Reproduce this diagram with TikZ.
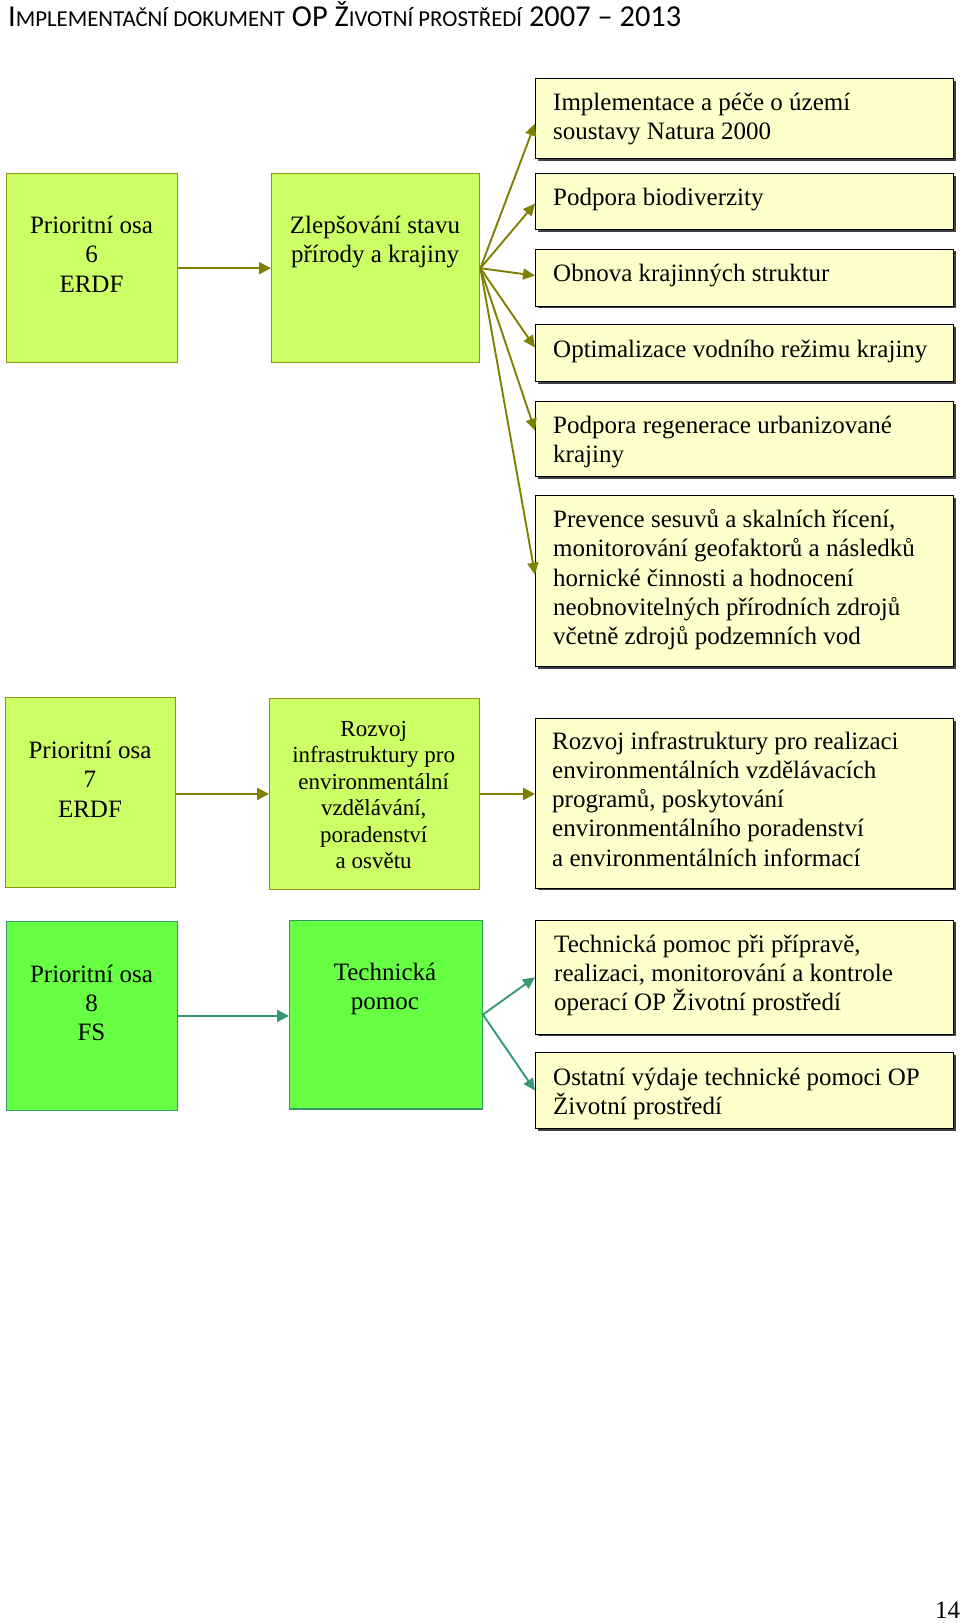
\documentclass[tikz,border=0pt]{standalone}
\usepackage{fontspec}
\setmainfont{Liberation Serif}
\newfontfamily\hdrfont{Carlito}
\usetikzlibrary{arrows.meta,shadows}
\definecolor{limefill}{HTML}{CCFF66}
\definecolor{limedraw}{HTML}{8F9410}
\definecolor{greenfill}{HTML}{66FF44}
\definecolor{greendraw}{HTML}{339966}
\definecolor{olivearrow}{HTML}{808000}
\definecolor{tealarrow}{HTML}{339977}
\definecolor{paleyellow}{HTML}{FFFFCC}
\definecolor{shadowgray}{HTML}{404040}
\tikzset{
  limebox/.style={draw=limedraw, fill=limefill, line width=1.4pt, inner sep=0pt, anchor=north west},
  greenbox/.style={draw=greendraw, fill=greenfill, line width=1.4pt, inner sep=0pt, anchor=north west},
  rbox/.style={draw=black, fill=paleyellow, line width=1.2pt, inner sep=0pt, anchor=north west,
    minimum width=418pt, drop shadow={shadow xshift=2pt, shadow yshift=-2pt, fill=shadowgray, opacity=1}},
  ctext/.style={inner sep=0pt, align=center, anchor=base, font=\fontsize{25}{29.3}\selectfont},
  ltext/.style={inner sep=0pt, align=left, anchor=base west, font=\fontsize{25}{29.3}\selectfont},
  oarrow/.style={draw=olivearrow, line width=2.4pt, -{Triangle[length=12pt,width=12pt]}},
  ofan/.style={draw=olivearrow, line width=1.9pt, -{Triangle[length=12pt,width=11pt]}},
  tarrow/.style={draw=tealarrow, line width=2.4pt, -{Triangle[length=12pt,width=12pt]}},
  tfan/.style={draw=tealarrow, line width=1.9pt, -{Triangle[length=12pt,width=11pt]}},
}
\begin{document}
\begin{tikzpicture}[x=1pt,y=-1pt]
\useasboundingbox (0,0) rectangle (960,1623);
% header
\node[inner sep=0pt, anchor=base west] (hdr) at (8,26.5) {\hdrfont\fontsize{30.4}{32}\selectfont I{\fontsize{22.8}{32}\selectfont MPLEMENTAČNÍ DOKUMENT} OP Ž{\fontsize{22.8}{32}\selectfont IVOTNÍ PROSTŘEDÍ} 2007 – 2013};
% row 6
\node[limebox, minimum width=171pt, minimum height=189pt] (a6) at (6,173) {};
\node[limebox, minimum width=208pt, minimum height=189pt] (b6) at (271,173) {};
\node[ctext] (ta6) at (91.5,292.1) {Prioritní osa\\6\\ERDF};
\node[ctext] (tb6) at (375,262.8) {Zlepšování stavu\\přírody a krajiny};
\node[rbox, minimum height=80pt] (r1) at (535,78) {};
\node[rbox, minimum height=56pt] (r2) at (535,173) {};
\node[rbox, minimum height=57pt] (r3) at (535,248.5) {};
\node[rbox, minimum height=57pt] (r4) at (535,324) {};
\node[rbox, minimum height=75pt] (r5) at (535,401) {};
\node[rbox, minimum height=171pt] (r6) at (535,495) {};
\node[ltext] (tr1) at (553,139.3) {Implementace a péče o území\\soustavy Natura 2000};
\node[ltext] (tr2) at (553,205.5) {Podpora biodiverzity};
\node[ltext] (tr3) at (553,281.5) {Obnova krajinných struktur};
\node[ltext] (tr4) at (553,357.5) {Optimalizace vodního režimu krajiny};
\node[ltext] (tr5) at (553,462.3) {Podpora regenerace urbanizované\\krajiny};
\node[ltext] (tr6) at (553,644.7) {Prevence sesuvů a skalních řícení,\\monitorování geofaktorů a následků\\hornické činnosti a hodnocení\\neobnovitelných přírodních zdrojů\\včetně zdrojů podzemních vod};
\draw[oarrow] (a6.east) -- (b6.west);
\draw[ofan] (b6.east) -- ([yshift=-5pt]r1.west);
\draw[ofan] (b6.east) -- ([yshift=-2pt]r2.west);
\draw[ofan] (b6.east) -- ([yshift=2pt]r3.west);
\draw[ofan] (b6.east) -- ([yshift=5.5pt]r4.west);
\draw[ofan] (b6.east) -- ([yshift=8.5pt]r5.west);
\draw[ofan] (b6.east) -- ([yshift=6.5pt]r6.west);
% row 7
\node[limebox, minimum width=170pt, minimum height=189.5pt] (a7) at (5,697) {};
\node[limebox, minimum width=209.5pt, minimum height=190.5pt] (b7) at (269,698) {};
\node[rbox, minimum height=169.5pt] (r7) at (535,718) {};
\node[ctext] (ta7) at (90,817.1) {Prioritní osa\\7\\ERDF};
\node[ctext, font=\fontsize{23}{26.5}\selectfont] (tb7) at (373.7,868.5) {Rozvoj\\infrastruktury pro\\environmentální\\vzdělávání,\\poradenství\\a osvětu};
\node[ltext] (tr7) at (552,866.2) {Rozvoj infrastruktury pro realizaci\\environmentálních vzdělávacích\\programů, poskytování\\environmentálního poradenství\\a environmentálních informací};
\draw[oarrow] (a7.east |- b7.east) -- (b7.west);
\draw[oarrow] (b7.east) -- (b7.east -| r7.west);
% row 8
\node[greenbox, minimum width=171pt, minimum height=189.5pt] (a8) at (6,920.5) {};
\node[greenbox, minimum width=192.5pt, minimum height=188.5pt] (b8) at (289,919.6) {};
\node[rbox, minimum height=114pt] (r8) at (535,919.6) {};
\node[rbox, minimum height=76pt] (r9) at (535,1052) {};
\node[ctext] (ta8) at (91.5,1040.6) {Prioritní osa\\8\\FS};
\node[ctext] (tb8) at (385,1009.3) {Technická\\pomoc};
\node[ltext] (tr8) at (554,1010.6) {Technická pomoc při přípravě,\\realizaci, monitorování a kontrole\\operací OP Životní prostředí};
\node[ltext] (tr9) at (553,1114.8) {Ostatní výdaje technické pomoci OP\\Životní prostředí};
\draw[tarrow] (a8.east) -- (a8.east -| b8.west);
\draw[tfan] (b8.east) -- (r8.west);
\draw[tfan] (b8.east) -- (r9.west);
% page number
\node[inner sep=0pt, anchor=base, font=\fontsize{25}{29}\selectfont] (pg) at (947.5,1618) {14};
\end{tikzpicture}
\end{document}
